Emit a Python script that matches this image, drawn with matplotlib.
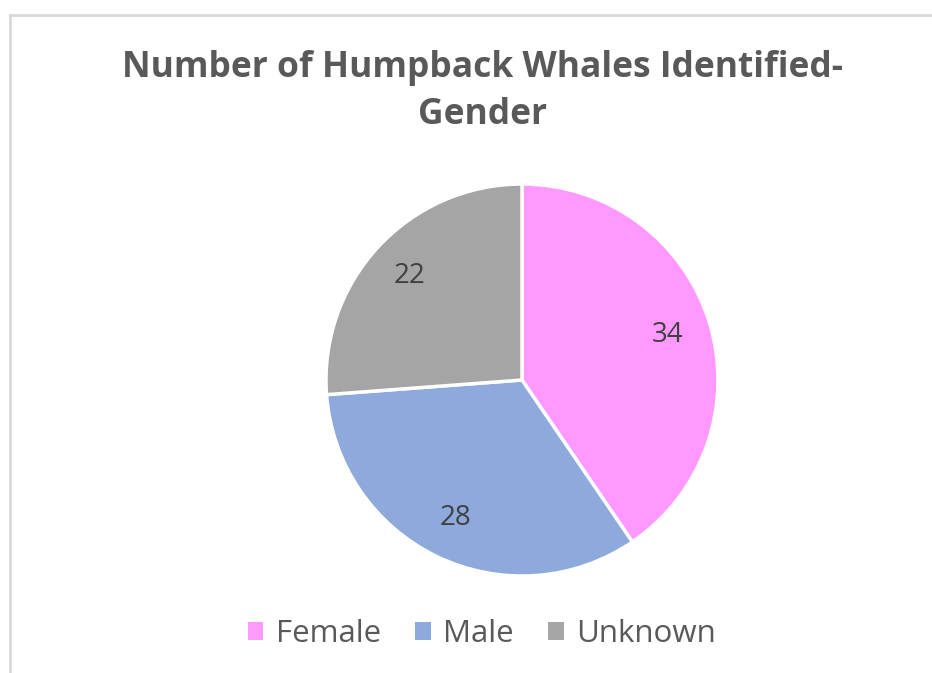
import matplotlib
matplotlib.use("Agg")
import matplotlib.pyplot as plt
from matplotlib.lines import Line2D
from matplotlib.patches import Patch

labels = ["Female", "Male", "Unknown"]
counts = [34, 28, 22]
colors = ["#FF99FF", "#8EA9DB", "#A5A5A5"]

W, H = 932, 673
plt.rcParams["font.family"] = ["Open Sans", "DejaVu Sans"]
fig = plt.figure(figsize=(W / 100, H / 100), dpi=100)
fig.patch.set_facecolor("white")

# chart-area border (top and left edges visible)
fig.add_artist(Line2D([10 / W, 1], [1 - 15 / H, 1 - 15 / H], color="#D9D9D9", lw=2))
fig.add_artist(Line2D([10 / W, 10 / W], [0, 1 - 15 / H], color="#D9D9D9", lw=2))

cx, cy, r = 522, 380, 196
ax = fig.add_axes([(cx - r) / W, (H - cy - r) / H, 2 * r / W, 2 * r / H])
total = sum(counts)
ax.pie(counts, colors=colors, startangle=90, counterclock=False,
       wedgeprops=dict(edgecolor="white", linewidth=2.5),
       autopct=lambda p: f"{round(p * total / 100):d}", pctdistance=0.78,
       textprops=dict(fontsize=20, color="#404040"))
ax.set_xlim(-1, 1)
ax.set_ylim(-1, 1)

tx = 483 / W
fig.text(tx, 1 - 68 / H, "Number of Humpback Whales Identified-", ha="center", va="center",
         fontsize=25.5, fontweight="bold", color="#595959")
fig.text(tx, 1 - 115 / H, "Gender", ha="center", va="center",
         fontsize=25.5, fontweight="bold", color="#595959")

handles = [Patch(facecolor=c, edgecolor="none") for c in colors]
fig.legend(handles, labels, loc="center", bbox_to_anchor=(482 / W, 1 - 634 / H), ncol=3,
           frameon=False, fontsize=22.5, labelcolor="#595959", handlelength=0.5, handleheight=0.5,
           handletextpad=0.4, columnspacing=1.1)

fig.savefig("out.png", dpi=100)
